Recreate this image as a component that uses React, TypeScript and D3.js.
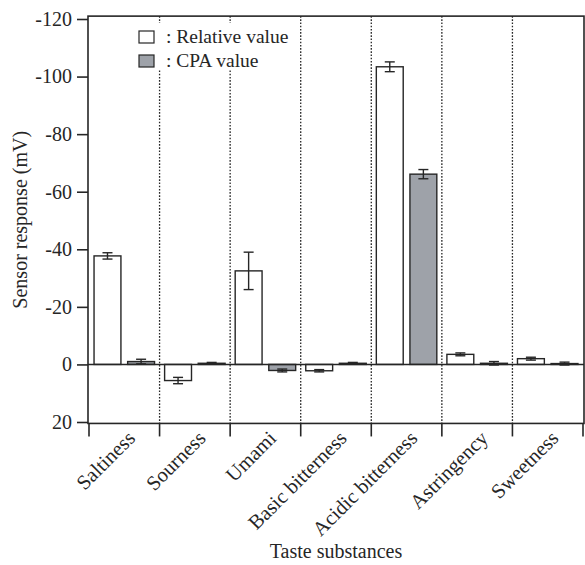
import React, { useEffect, useRef } from 'react';
import * as d3 from 'd3';

// taste sensor data (mV), negative = upward on this chart
const categories = ['Saltiness', 'Sourness', 'Umami', 'Basic bitterness', 'Acidic bitterness', 'Astringency', 'Sweetness'];
const relativeValue = [-37.7, 5.6, -32.5, 2.2, -103.4, -3.5, -2.0];
const relativeError = [1.1, 1.1, 6.5, 0.4, 1.7, 0.5, 0.5];
const cpaValue = [-1.0, -0.4, 2.1, -0.4, -66.1, -0.4, -0.3];
const cpaError = [0.8, 0.3, 0.5, 0.3, 1.6, 0.6, 0.5];
const yTicks = [-120, -100, -80, -60, -40, -20, 0, 20];
const seriesNames = ['Relative value', 'CPA value'];

const width = 585,
  height = 565;
const FONT = '"Liberation Serif", "Times New Roman", serif';
const INK = '#262626';
const GRAY = '#9ea2a9';

export default function App() {
  const ref = useRef<SVGSVGElement>(null);

  useEffect(() => {
    const svg = d3.select(ref.current);
    svg.selectAll('*').remove();

    const left = 88,
      right = 584;

    const x = d3.scaleBand<string>().domain(categories).range([left + 1, right - 1]);
    const x1 = d3.scaleBand<string>().domain(['rel', 'cpa']).range([0, x.bandwidth()])
      .paddingInner(0.2).paddingOuter(0.15);
    const y = d3.scaleLinear().domain([-120, 20]).range([19, 422]);

    const top = y(-121),
      bottom = y(20.5);

    // dotted dividers between categories
    svg.append('g').selectAll('line')
      .data(categories.slice(1))
      .enter().append('line')
      .attr('x1', d => x(d)!).attr('x2', d => x(d)!)
      .attr('y1', top).attr('y2', bottom)
      .style('stroke', INK).style('stroke-width', 1.3)
      .style('stroke-dasharray', '1.6,1.6');

    // legend (white box cuts the dividers)
    const lg = svg.append('g');
    lg.append('rect').attr('x', 130).attr('y', 23).attr('width', 166).attr('height', 47).style('fill', '#fff');
    seriesNames.forEach((name, i) => {
      lg.append('rect')
        .attr('x', 139).attr('y', 31 + i * 24).attr('width', 15).attr('height', 12)
        .style('fill', i === 0 ? '#fff' : GRAY).style('stroke', INK).style('stroke-width', 1.2);
      lg.append('text')
        .attr('x', 166).attr('y', 43 + i * 24)
        .style('font-family', FONT).style('font-size', '19.5px').style('fill', INK)
        .text(': ' + name);
    });

    // bars
    const rows = categories.map((c, i) => [
      { cat: c, key: 'rel', v: relativeValue[i], e: relativeError[i] },
      { cat: c, key: 'cpa', v: cpaValue[i], e: cpaError[i] },
    ]).flat();

    const bars = svg.append('g');
    bars.selectAll('rect')
      .data(rows)
      .enter().append('rect')
      .attr('x', d => x(d.cat)! + x1(d.key)!)
      .attr('width', x1.bandwidth())
      .attr('y', d => Math.min(y(d.v), y(0)))
      .attr('height', d => Math.abs(y(d.v) - y(0)))
      .style('fill', d => (d.key === 'rel' ? '#fff' : GRAY))
      .style('stroke', INK).style('stroke-width', 1.4);

    // error bars
    const eb = svg.append('g').style('stroke', INK).style('stroke-width', 1.4);
    rows.forEach(d => {
      const cx = x(d.cat)! + x1(d.key)! + x1.bandwidth() / 2;
      eb.append('line').attr('x1', cx).attr('x2', cx).attr('y1', y(d.v - d.e)).attr('y2', y(d.v + d.e));
      [d.v - d.e, d.v + d.e].forEach(t => {
        eb.append('line').attr('x1', cx - 5).attr('x2', cx + 5).attr('y1', y(t)).attr('y2', y(t));
      });
    });

    // zero line
    svg.append('line')
      .attr('x1', left).attr('x2', right).attr('y1', y(0)).attr('y2', y(0))
      .style('stroke', INK).style('stroke-width', 1.4);

    // frame
    svg.append('rect')
      .attr('x', left).attr('y', top).attr('width', right - left).attr('height', bottom - top)
      .style('fill', 'none').style('stroke', INK).style('stroke-width', 1.6);

    // y axis
    const yAxis = svg.append('g')
      .attr('transform', `translate(${left},0)`)
      .call(d3.axisLeft(y).tickValues(yTicks).tickSize(11).tickPadding(5).tickFormat(d => String(d)));
    yAxis.select('.domain').remove();
    yAxis.selectAll('line').style('stroke', INK).style('stroke-width', 1.6);
    yAxis.selectAll('text')
      .style('font-family', FONT).style('font-size', '20px').style('fill', INK);

    // category ticks at band edges
    const edges = categories.map(c => x(c)!).concat([x(categories[categories.length - 1])! + x.bandwidth()]);
    svg.append('g').selectAll('line')
      .data(edges)
      .enter().append('line')
      .attr('x1', d => d).attr('x2', d => d)
      .attr('y1', bottom).attr('y2', bottom + 13)
      .style('stroke', INK).style('stroke-width', 1.6);

    // rotated category labels
    svg.append('g').selectAll('text')
      .data(categories)
      .enter().append('text')
      .attr('transform', d => `translate(${x(d)! + x.bandwidth() / 2 + 12},${bottom + 16}) rotate(-45)`)
      .attr('text-anchor', 'end')
      .style('font-family', FONT).style('font-size', '20.5px').style('fill', INK)
      .text(d => d);

    // axis titles
    svg.append('text')
      .attr('x', (left + right) / 2).attr('y', 558)
      .attr('text-anchor', 'middle')
      .style('font-family', FONT).style('font-size', '20px').style('fill', INK)
      .text('Taste substances');

    svg.append('text')
      .attr('transform', `translate(27,${(top + bottom) / 2}) rotate(-90)`)
      .attr('text-anchor', 'middle')
      .style('font-family', FONT).style('font-size', '20px').style('fill', INK)
      .text('Sensor response (mV)');
  }, []);

  return (
    <div style={{ position: 'absolute', left: 0, top: 0 }}>
      <svg ref={ref} width={width} height={height} style={{ display: 'block', background: '#fff' }}></svg>
    </div>
  );
}
